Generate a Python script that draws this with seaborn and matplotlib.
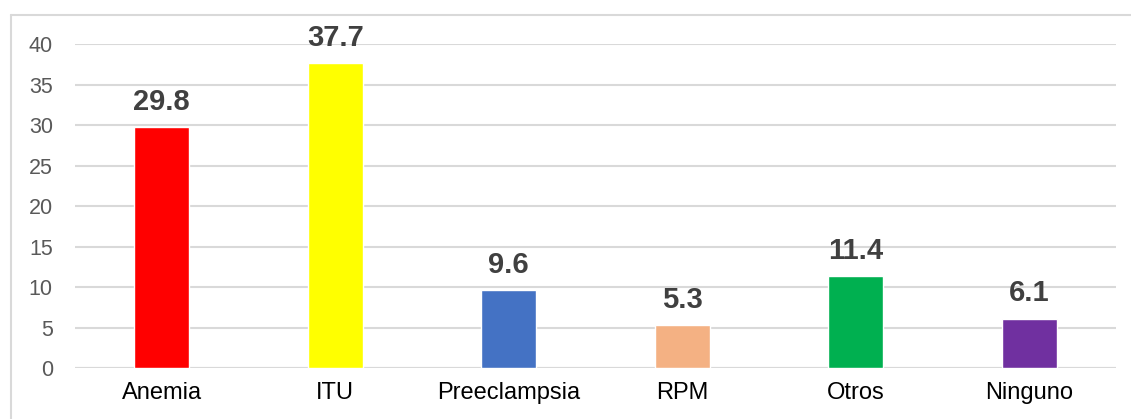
import matplotlib
matplotlib.use("Agg")
import matplotlib.pyplot as plt
from matplotlib.lines import Line2D
import seaborn as sns
import pandas as pd

categories = ["Anemia", "ITU", "Preeclampsia", "RPM", "Otros", "Ninguno"]
values = [29.8, 37.7, 9.6, 5.3, 11.4, 6.1]
bar_colors = ["#FF0000", "#FFFF00", "#4472C4", "#F4B183", "#00B050", "#7030A0"]
y_ticks = [0, 5, 10, 15, 20, 25, 30, 35, 40]

sns.set_style("white")
plt.rcParams["font.family"] = ["Liberation Sans", "DejaVu Sans"]

W, H = 1131, 419
fig = plt.figure(figsize=(W / 100, H / 100), dpi=100)
ax = fig.add_axes([75 / W, (H - 368) / H, (1116 - 75) / W, (368 - 44) / H])

df = pd.DataFrame({"categoria": categories, "valor": values})
sns.barplot(data=df, x="categoria", y="valor", hue="categoria",
            palette=bar_colors, legend=False, width=0.317,
            saturation=1, ax=ax, zorder=3)

ax.set_ylim(0, 40)
ax.set_xlim(-0.5, len(categories) - 0.5)
ax.set_yticks(y_ticks)
ax.yaxis.grid(True, color="#D9D9D9", linewidth=1.5, zorder=0)
ax.set_axisbelow(True)
for s in ax.spines.values():
    s.set_visible(False)
ax.axhline(0, color="#D9D9D9", linewidth=1.5, zorder=2)

ax.set_xlabel("")
ax.set_ylabel("")
ax.tick_params(axis="y", length=0, pad=16, labelsize=15.5, labelcolor="#595959")
ax.tick_params(axis="x", length=0, pad=10, labelsize=17, labelcolor="#000000")

for i, v in enumerate(values):
    ax.annotate(f"{v:.1f}", xy=(i, v), xytext=(0, 8), textcoords="offset points",
                ha="center", va="bottom", fontsize=21, fontweight="bold",
                color="#404040")

# chart frame
fig.add_artist(Line2D([11 / W, 1.0], [(H - 15) / H, (H - 15) / H],
                      transform=fig.transFigure, color="#D9D9D9", linewidth=1.5))
fig.add_artist(Line2D([11 / W, 11 / W], [0, (H - 15) / H],
                      transform=fig.transFigure, color="#D9D9D9", linewidth=1.5))

fig.savefig("out.png", dpi=100, facecolor="white")
